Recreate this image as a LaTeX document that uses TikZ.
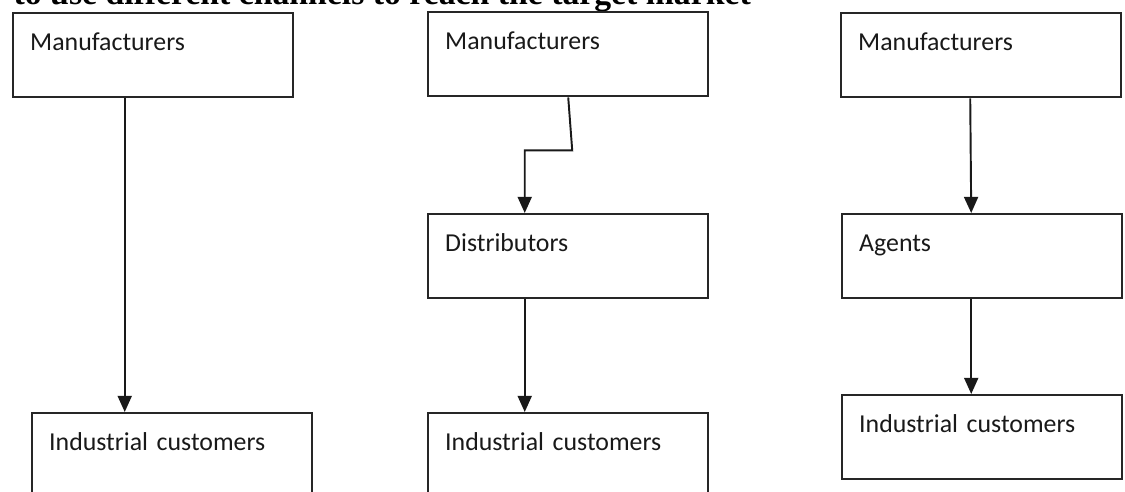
\documentclass[tikz,border=0pt]{standalone}
\usepackage{fontspec}
\newfontfamily\boxfont{Carlito}
\newfontfamily\headfont{Liberation Serif}
\usetikzlibrary{arrows.meta}

\begin{document}
\begin{tikzpicture}[
  chanbox/.style={draw=black!85,line width=0.7pt,anchor=north west,inner xsep=0.17cm,inner ysep=0pt,
    text width=2.46cm,align=left,text height=0.37cm,text depth=0.47cm,text=black!90,
    font=\boxfont\fontsize{7.35}{8.8}\selectfont},
  flow/.style={black!90,line width=0.55pt,-{Triangle[length=4.6pt,width=4pt]}}]
  \clip (0,0) rectangle (11.25,-4.92);
  \node [anchor=base west,inner sep=0pt,font=\headfont\bfseries\fontsize{9.6}{11}\selectfont] (title) at (0.13,-0.05) {to use different channels to reach the target market};
  % first channel
  \node [chanbox] (m1) at (0.12,-0.12) {Manufacturers};
  \node [chanbox] (c1) at (0.31,-4.12) {Industrial customers};
  % second channel
  \node [chanbox] (m2) at (4.27,-0.11) {Manufacturers};
  \node [chanbox] (d2) at (4.27,-2.13) {Distributors};
  \node [chanbox] (c2) at (4.27,-4.12) {Industrial customers};
  % third channel
  \node [chanbox] (m3) at (8.40,-0.12) {Manufacturers};
  \node [chanbox] (a3) at (8.41,-2.13) {Agents};
  \node [chanbox] (c3) at (8.41,-3.94) {Industrial customers};
  \draw [flow] ([xshift=-2.85mm]m1.south) coordinate (s1) -- (s1 |- c1.north);
  \draw [flow] (m2.south) -- ++(0.04,-0.53) -| ([xshift=-4.35mm]d2.north);
  \draw [flow] ([xshift=-4.35mm]d2.south) -- ([xshift=-4.35mm]c2.north);
  \draw [flow] ([xshift=-1.1mm]m3.south) -- ([xshift=-1.1mm]a3.north);
  \draw [flow] ([xshift=-1.1mm]a3.south) -- ([xshift=-1.1mm]c3.north);
\end{tikzpicture}
\end{document}
